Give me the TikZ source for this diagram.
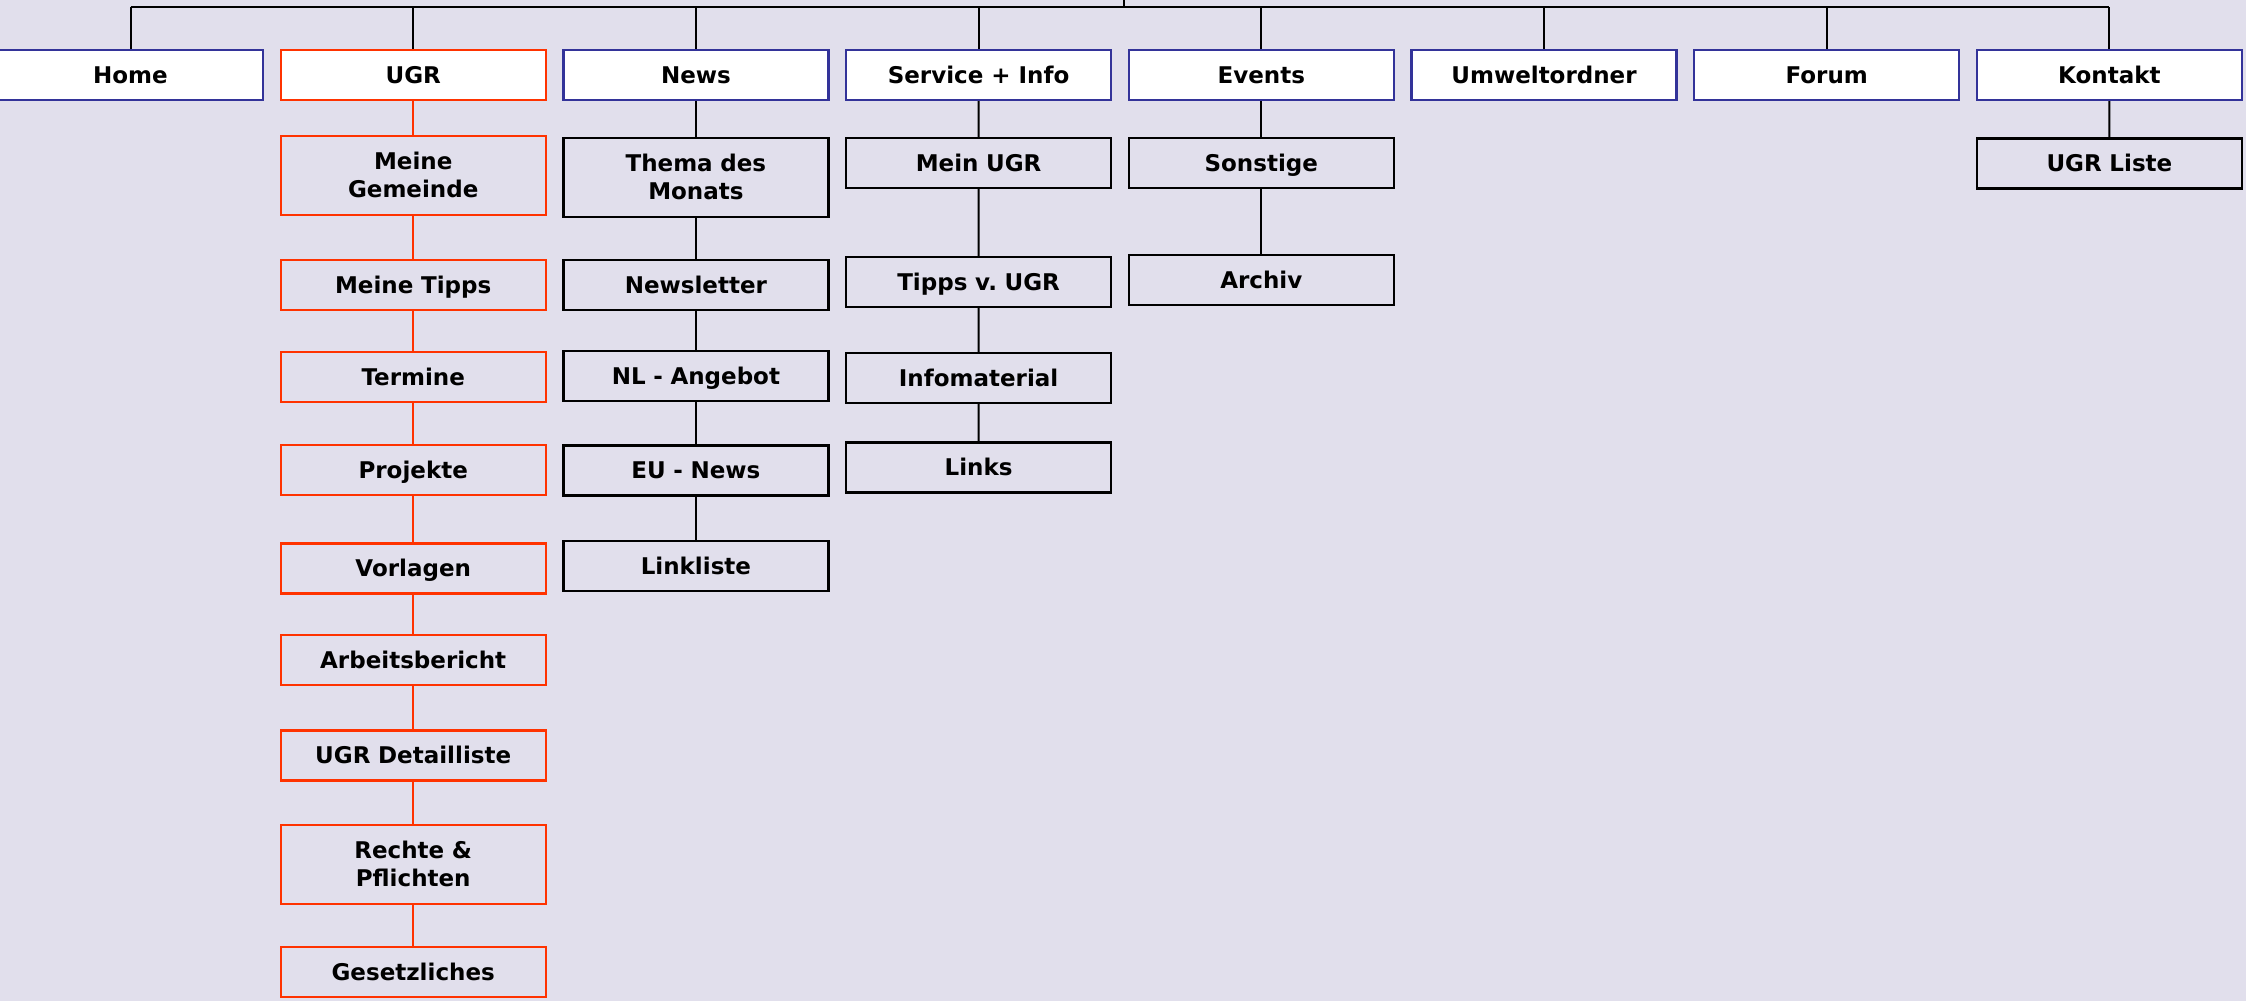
\documentclass[tikz,border=0pt]{standalone}
\usepackage{fontspec}
\setmainfont{DejaVu Sans}
\frenchspacing
\definecolor{bgLavender}{HTML}{E1DFEC}
\definecolor{menuBlue}{HTML}{333399}
\definecolor{ugrRed}{HTML}{FF3300}
\begin{document}
\begin{tikzpicture}[x=0.5pt, y=-0.5pt,
	font=\fontsize{11.5}{14}\selectfont\bfseries,
	menu/.style={draw=menuBlue, fill=white, line width=1.2pt, rectangle, text centered, text height=8.4pt, text depth=0pt, minimum width=132.5pt, minimum height=25pt},
	ugrBox/.style={draw=ugrRed, line width=1.2pt, rectangle, text centered, text width=120pt, text height=8.4pt, text depth=0pt, minimum width=132.5pt, minimum height=25pt},
	subBox/.style={draw=black, line width=1.2pt, rectangle, text centered, text width=120pt, text height=8.4pt, text depth=0pt, minimum width=132.5pt, minimum height=25pt},
	twoLines/.style={minimum height=39.5pt, text depth=14pt},
	link/.style={draw=black, line width=1pt},
	ugrLink/.style={draw=ugrRed, line width=1pt}]
	
	%Background and page size
	\fill[bgLavender] (0,0) rectangle (2246,1001);
	\useasboundingbox (0,0) rectangle (2246,1001);
	
	%Main menu
	\foreach \name/\label [count=\i from 0] in {home/Home, ugr/UGR, news/News, serviceInfo/Service + Info, events/Events, umweltordner/Umweltordner, forum/Forum, kontakt/Kontakt}
	\node (\name) at (130.5+282.7*\i,75) [menu]{\label};
	\node (ugr) at (413.2,75) [menu, draw=ugrRed]{UGR};
	
	%Root of the tree
	\coordinate (rootTop) at (1124,0);
	\coordinate (rootBar) at (1124,7);
	\draw[link] (rootTop) -- (rootBar);
	\draw[link] (home.north |- rootBar) -- (kontakt.north |- rootBar);
	\foreach \name in {home, ugr, news, serviceInfo, events, umweltordner, forum, kontakt}
	\draw[link] (\name.north |- rootBar) -- (\name.north);
	
	%UGR column
	\node (meineGemeinde) at (413.2,175.5) [ugrBox, twoLines]{Meine\\ Gemeinde};
	\node (meineTipps) at (413.2,285) [ugrBox]{Meine Tipps};
	\node (termine) at (413.2,377) [ugrBox]{Termine};
	\node (projekte) at (413.2,470) [ugrBox]{Projekte};
	\node (vorlagen) at (413.2,568.5) [ugrBox]{Vorlagen};
	\node (arbeitsbericht) at (413.2,660) [ugrBox]{Arbeitsbericht};
	\node (detailliste) at (413.2,755.5) [ugrBox]{UGR Detailliste};
	\node (rechte) at (413.2,864.5) [ugrBox, twoLines]{Rechte \&\\ Pflichten};
	\node (gesetzliches) at (413.2,972) [ugrBox]{Gesetzliches};
	\draw[ugrLink] (ugr) -- (meineGemeinde) -- (meineTipps) -- (termine) -- (projekte) -- (vorlagen) -- (arbeitsbericht) -- (detailliste) -- (rechte) -- (gesetzliches);
	
	%News column
	\node (themaMonat) at (695.9,177.5) [subBox, twoLines]{Thema des\\ Monats};
	\node (newsletter) at (695.9,285) [subBox]{Newsletter};
	\node (nlAngebot) at (695.9,376) [subBox]{NL - Angebot};
	\node (euNews) at (695.9,470.5) [subBox]{EU - News};
	\node (linkliste) at (695.9,566) [subBox]{Linkliste};
	\draw[link] (news) -- (themaMonat) -- (newsletter) -- (nlAngebot) -- (euNews) -- (linkliste);
	
	%Service + Info column
	\node (meinUgr) at (978.6,163) [subBox]{Mein UGR};
	\node (tippsUgr) at (978.6,282) [subBox]{Tipps v. UGR};
	\node (infomaterial) at (978.6,378) [subBox]{Infomaterial};
	\node (links) at (978.6,467.5) [subBox]{Links};
	\draw[link] (serviceInfo) -- (meinUgr) -- (tippsUgr) -- (infomaterial) -- (links);
	
	%Events column
	\node (sonstige) at (1261.3,163) [subBox]{Sonstige};
	\node (archiv) at (1261.3,280) [subBox]{Archiv};
	\draw[link] (events) -- (sonstige) -- (archiv);
	
	%Kontakt column
	\node (ugrListe) at (2109.4,163.5) [subBox]{UGR Liste};
	\draw[link] (kontakt) -- (ugrListe);
	
\end{tikzpicture}
\end{document}
